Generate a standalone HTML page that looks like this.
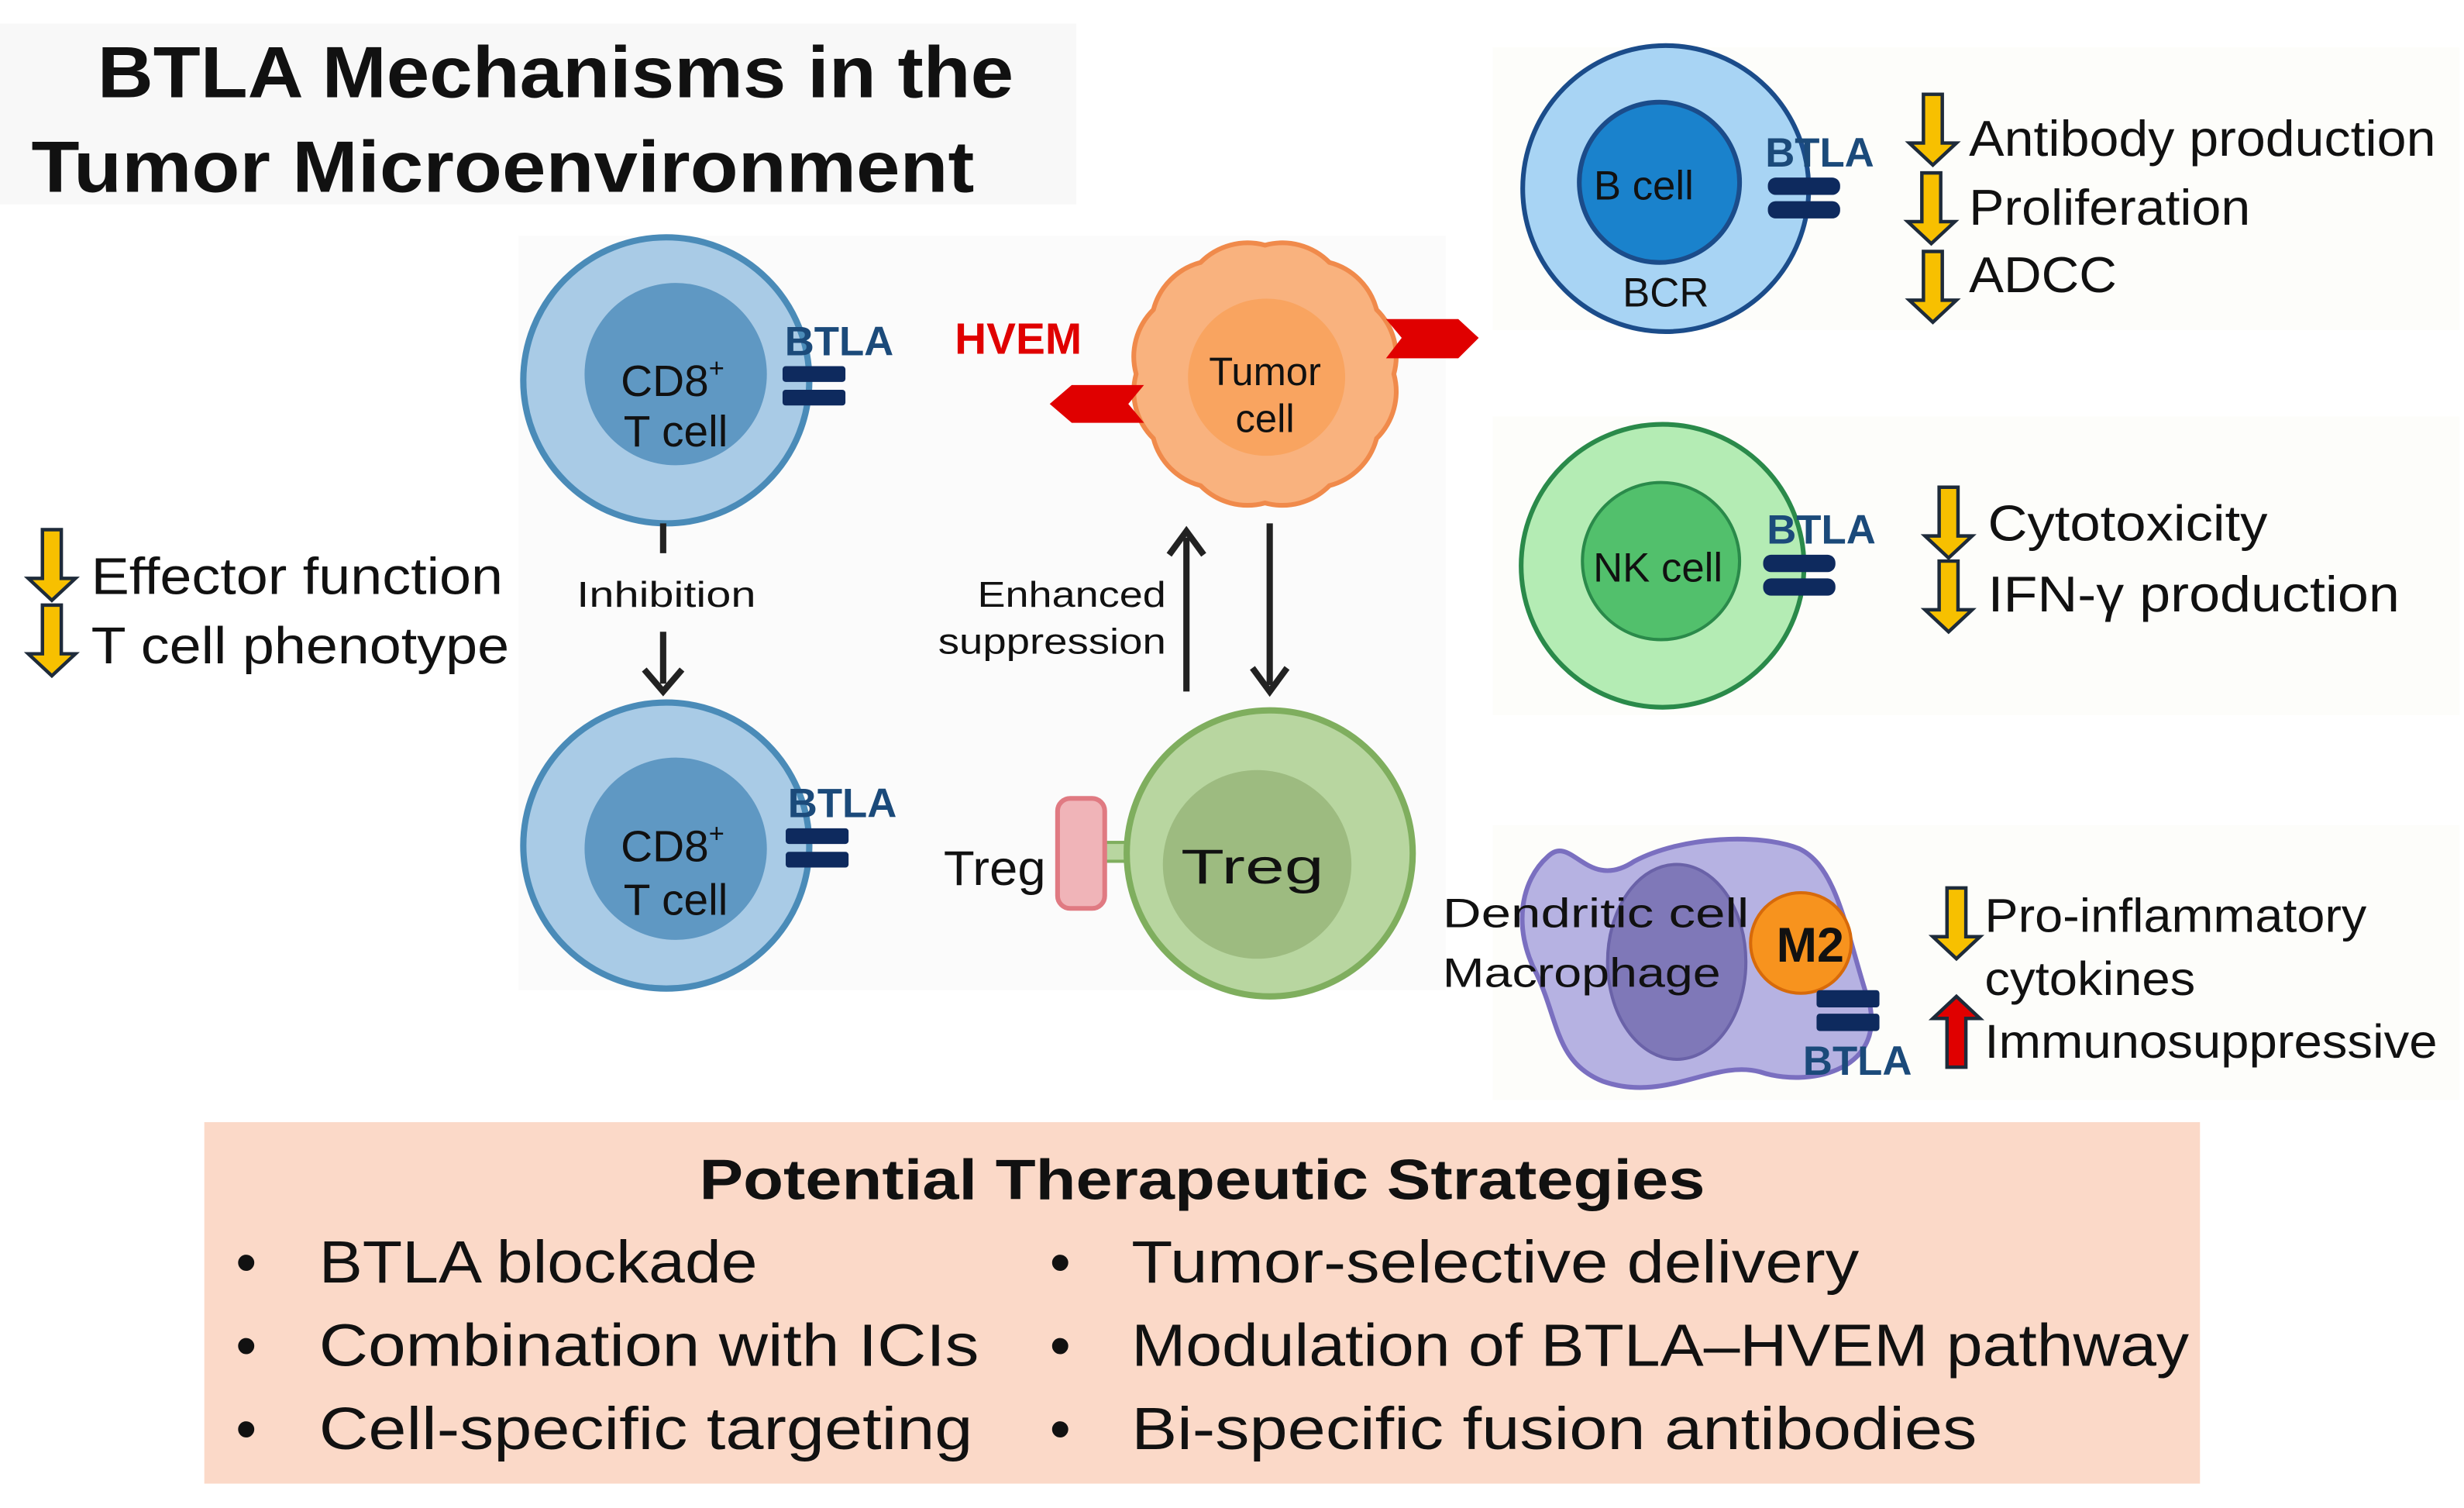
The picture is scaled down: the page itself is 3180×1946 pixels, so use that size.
<!DOCTYPE html>
<html><head><meta charset="utf-8"><style>
html,body{margin:0;padding:0;background:#fff}
svg{display:block}
text{font-family:"Liberation Sans",sans-serif}
</style></head><body>
<svg width="3180" height="1946" viewBox="0 0 1568 959.5" preserveAspectRatio="none" xmlns="http://www.w3.org/2000/svg">
<defs>
<path id="da" d="M-6,0 H6 V31 H15 L0,45 L-15,31 H-6 Z" fill="#f7c000" stroke="#1e2b3a" stroke-width="2.2"/>
<path id="ua" d="M-6,45 H6 V14 H15 L0,0 L-15,14 H-6 Z" fill="#e00000" stroke="#1e2b3a" stroke-width="2.2"/>
</defs>
<rect width="1568" height="960" fill="#fff"/>
<rect x="0" y="15" width="685" height="115" fill="#f8f8f8"/>
<rect x="330" y="150" width="590" height="480" fill="#fbfbfb"/>
<rect x="950" y="30" width="615" height="180" fill="#fdfdfa"/>
<rect x="950" y="265" width="615" height="190" fill="#fdfdfa"/>
<rect x="950" y="525" width="615" height="175" fill="#fdfdfa"/>
<text x="62" y="62" font-size="46" font-weight="bold" fill="#111" textLength="583" lengthAdjust="spacingAndGlyphs">BTLA Mechanisms in the</text>
<text x="20" y="122" font-size="46" font-weight="bold" fill="#111" textLength="600" lengthAdjust="spacingAndGlyphs">Tumor Microenvironment</text>

<use href="#da" transform="translate(33,337)"/>
<use href="#da" transform="translate(33,385)"/>
<text x="58" y="378" font-size="33" fill="#111" textLength="262" lengthAdjust="spacingAndGlyphs">Effector function</text>
<text x="58" y="422" font-size="33" fill="#111" textLength="266" lengthAdjust="spacingAndGlyphs">T cell phenotype</text>

<circle cx="424" cy="242" r="91" fill="#a9cbe6" stroke="#4a8bb8" stroke-width="4"/>
<circle cx="430" cy="238" r="58" fill="#5f98c3"/>
<text x="428" y="252" font-size="28" text-anchor="middle" fill="#111">CD8<tspan font-size="17" dy="-12">+</tspan></text>
<text x="430" y="284" font-size="28" text-anchor="middle" fill="#111">T cell</text>
<text x="534" y="226" font-size="26" font-weight="bold" text-anchor="middle" fill="#1b4a7a">BTLA</text>
<rect x="498" y="233" width="40" height="10" rx="2" fill="#0e2a5e"/>
<rect x="498" y="248" width="40" height="10" rx="2" fill="#0e2a5e"/>

<line x1="422" y1="333" x2="422" y2="352" stroke="#222" stroke-width="4"/>
<text x="424" y="386" font-size="23" text-anchor="middle" fill="#111" textLength="114" lengthAdjust="spacingAndGlyphs">Inhibition</text>
<line x1="422" y1="402" x2="422" y2="435" stroke="#222" stroke-width="4"/>
<path d="M410,426 L422,440 L434,426" fill="none" stroke="#222" stroke-width="4"/>

<text x="648" y="225" font-size="28" font-weight="bold" text-anchor="middle" fill="#e00000">HVEM</text>
<path d="M887,238 A42,42 0 0 1 876,279 A42,42 0 0 1 846,309 A42,42 0 0 1 805,320 A42,42 0 0 1 764,309 A42,42 0 0 1 734,279 A42,42 0 0 1 723,238 A42,42 0 0 1 734,197 A42,42 0 0 1 764,167 A42,42 0 0 1 805,156 A42,42 0 0 1 846,167 A42,42 0 0 1 876,197 A42,42 0 0 1 887,238 Z" fill="#f9b27e" stroke="#f08a4b" stroke-width="3"/>
<circle cx="806" cy="240" r="50" fill="#f9a460"/>
<text x="805" y="245" font-size="25" text-anchor="middle" fill="#111">Tumor</text>
<text x="805" y="275" font-size="25" text-anchor="middle" fill="#111">cell</text>
<path d="M728,245 H682 L668,257 L682,269 H728 L718,257 Z" fill="#e00000"/>
<path d="M882,203 H928 L941,215 L928,228 H882 L892,215 Z" fill="#e00000"/>

<text x="742" y="386" font-size="23" text-anchor="end" fill="#111" textLength="120" lengthAdjust="spacingAndGlyphs">Enhanced</text>
<text x="742" y="416" font-size="23" text-anchor="end" fill="#111" textLength="145" lengthAdjust="spacingAndGlyphs">suppression</text>
<line x1="755" y1="440" x2="755" y2="342" stroke="#222" stroke-width="4"/>
<path d="M744,353 L755,338 L766,353" fill="none" stroke="#222" stroke-width="4"/>
<line x1="808" y1="333" x2="808" y2="436" stroke="#222" stroke-width="4"/>
<path d="M797,425 L808,440 L819,425" fill="none" stroke="#222" stroke-width="4"/>

<circle cx="424" cy="538" r="91" fill="#a9cbe6" stroke="#4a8bb8" stroke-width="4"/>
<circle cx="430" cy="540" r="58" fill="#5f98c3"/>
<text x="428" y="548" font-size="28" text-anchor="middle" fill="#111">CD8<tspan font-size="17" dy="-12">+</tspan></text>
<text x="430" y="582" font-size="28" text-anchor="middle" fill="#111">T cell</text>
<text x="536" y="520" font-size="26" font-weight="bold" text-anchor="middle" fill="#1b4a7a">BTLA</text>
<rect x="500" y="527" width="40" height="10" rx="2" fill="#0e2a5e"/>
<rect x="500" y="542" width="40" height="10" rx="2" fill="#0e2a5e"/>

<rect x="700" y="536" width="22" height="12" fill="#b8d6a0" stroke="#7fae5e" stroke-width="2"/>
<circle cx="808" cy="543" r="91" fill="#b8d6a0" stroke="#7fae5e" stroke-width="4"/>
<circle cx="800" cy="550" r="60" fill="#9dbb80"/>
<text x="797" y="562" font-size="31" text-anchor="middle" fill="#111" textLength="91" lengthAdjust="spacingAndGlyphs">Treg</text>
<rect x="673" y="508" width="30" height="70" rx="8" fill="#f0b4b8" stroke="#e07a82" stroke-width="3"/>
<text x="633" y="563" font-size="31" text-anchor="middle" fill="#111" textLength="65" lengthAdjust="spacingAndGlyphs">Treg</text>

<circle cx="1060" cy="120" r="91" fill="#a8d4f4" stroke="#1b4c8a" stroke-width="3"/>
<circle cx="1056" cy="116" r="51" fill="#1a82cc" stroke="#1b4c8a" stroke-width="3"/>
<text x="1046" y="127" font-size="26" text-anchor="middle" fill="#111">B cell</text>
<text x="1060" y="195" font-size="26" text-anchor="middle" fill="#111">BCR</text>
<text x="1158" y="106" font-size="26" font-weight="bold" text-anchor="middle" fill="#1b4a7a">BTLA</text>
<rect x="1125" y="113" width="46" height="11" rx="5" fill="#0e2a5e"/>
<rect x="1125" y="128" width="46" height="11" rx="5" fill="#0e2a5e"/>
<use href="#da" transform="translate(1230,60)"/>
<use href="#da" transform="translate(1229,110)"/>
<use href="#da" transform="translate(1230,160)"/>
<text x="1253" y="99" font-size="32" fill="#111" textLength="297" lengthAdjust="spacingAndGlyphs">Antibody production</text>
<text x="1253" y="143" font-size="32" fill="#111" textLength="179" lengthAdjust="spacingAndGlyphs">Proliferation</text>
<text x="1253" y="186" font-size="32" fill="#111" textLength="94" lengthAdjust="spacingAndGlyphs">ADCC</text>

<circle cx="1058" cy="360" r="90" fill="#b4ecb4" stroke="#2a8a4a" stroke-width="3"/>
<circle cx="1057" cy="357" r="50" fill="#52c06c" stroke="#2a8a4a" stroke-width="2"/>
<text x="1055" y="370" font-size="26" text-anchor="middle" fill="#111">NK cell</text>
<text x="1159" y="346" font-size="26" font-weight="bold" text-anchor="middle" fill="#1b4a7a">BTLA</text>
<rect x="1122" y="353" width="46" height="11" rx="5" fill="#0e2a5e"/>
<rect x="1122" y="368" width="46" height="11" rx="5" fill="#0e2a5e"/>
<use href="#da" transform="translate(1240,310)"/>
<use href="#da" transform="translate(1240,357)"/>
<text x="1265" y="344" font-size="32" fill="#111" textLength="178" lengthAdjust="spacingAndGlyphs">Cytotoxicity</text>
<text x="1265" y="389" font-size="32" fill="#111" textLength="262" lengthAdjust="spacingAndGlyphs">IFN-γ production</text>

<path d="M985,545 C1000,530 1010,568 1040,548 C1070,532 1120,530 1145,540 C1170,552 1175,595 1190,640 C1198,682 1150,692 1120,682 C1090,674 1060,702 1020,688 C990,676 992,650 978,620 C962,590 968,560 985,545 Z" fill="#b6b2e2" stroke="#7a6fc0" stroke-width="3"/>
<ellipse cx="1067" cy="612" rx="44" ry="62" fill="#7f78b8" stroke="#6a62a8" stroke-width="2"/>
<circle cx="1146" cy="600" r="32" fill="#f7931e" stroke="#d76a0a" stroke-width="2"/>
<text x="1152" y="612" font-size="31" font-weight="bold" text-anchor="middle" fill="#111">M2</text>
<text x="918" y="590" font-size="26" fill="#111" textLength="195" lengthAdjust="spacingAndGlyphs">Dendritic  cell</text>
<text x="918" y="628" font-size="26" fill="#111" textLength="177" lengthAdjust="spacingAndGlyphs">Macrophage</text>
<rect x="1156" y="630" width="40" height="11" rx="2" fill="#0e2a5e"/>
<rect x="1156" y="645" width="40" height="11" rx="2" fill="#0e2a5e"/>
<text x="1182" y="684" font-size="26" font-weight="bold" text-anchor="middle" fill="#1b4a7a">BTLA</text>
<use href="#da" transform="translate(1245,565)"/>
<use href="#ua" transform="translate(1245,634)"/>
<text x="1263" y="593" font-size="30" fill="#111" textLength="243" lengthAdjust="spacingAndGlyphs">Pro-inflammatory</text>
<text x="1263" y="633" font-size="30" fill="#111" textLength="134" lengthAdjust="spacingAndGlyphs">cytokines</text>
<text x="1263" y="673" font-size="30" fill="#111" textLength="288" lengthAdjust="spacingAndGlyphs">Immunosuppressive</text>

<rect x="130" y="714" width="1270" height="230" fill="#fbd9c8"/>
<text x="445" y="763" font-size="36" font-weight="bold" fill="#111" textLength="640" lengthAdjust="spacingAndGlyphs">Potential Therapeutic Strategies</text>
<g font-size="38" fill="#111">
<text x="150" y="816">•</text><text x="203" y="816" textLength="279" lengthAdjust="spacingAndGlyphs">BTLA blockade</text>
<text x="150" y="869">•</text><text x="203" y="869" textLength="420" lengthAdjust="spacingAndGlyphs">Combination with ICIs</text>
<text x="150" y="922">•</text><text x="203" y="922" textLength="416" lengthAdjust="spacingAndGlyphs">Cell-specific targeting</text>
<text x="668" y="816">•</text><text x="720" y="816" textLength="463" lengthAdjust="spacingAndGlyphs">Tumor-selective delivery</text>
<text x="668" y="869">•</text><text x="720" y="869" textLength="673" lengthAdjust="spacingAndGlyphs">Modulation of BTLA–HVEM pathway</text>
<text x="668" y="922">•</text><text x="720" y="922" textLength="538" lengthAdjust="spacingAndGlyphs">Bi-specific fusion antibodies</text>
</g>
</svg>
</body></html>
